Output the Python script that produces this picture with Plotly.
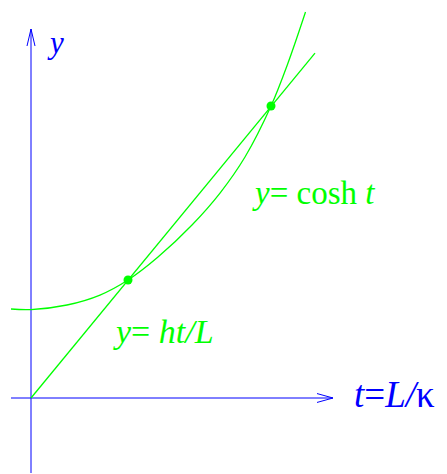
import plotly.graph_objects as go

# cosh-like curve (t, y)
curve_t = [-0.16, 0.00, 0.288, 0.552, 0.776, 1.016, 1.288, 1.512, 1.712, 1.920, 2.056, 2.196]
curve_y = [1.00, 0.994, 1.045, 1.157, 1.326, 1.584, 1.944, 2.303, 2.708, 3.281, 3.764, 4.337]

# straight line y = h t / L
line_t = [0.0, 2.272]
line_y = [0.0, 3.876]

# intersection points
pts_t = [0.776, 1.920]
pts_y = [1.326, 3.281]

# axes extents
xaxis_t = [-0.16, 2.416]
yaxis_y = [-0.843, 4.146]

# arrowheads (open chevrons)
xarrow_t = [2.288, 2.416, 2.288]
xarrow_y = [0.05, 0.0, -0.05]
yarrow_t = [-0.032, 0.0, 0.032]
yarrow_y = [3.955, 4.146, 3.955]

GREEN = "#00ff00"
BLUE = "#0000ff"
FONT = "Liberation Serif"

fig = go.Figure()
fig.add_trace(go.Scatter(x=xaxis_t, y=[0, 0], mode="lines", line=dict(color=BLUE, width=1)))
fig.add_trace(go.Scatter(x=[0, 0], y=yaxis_y, mode="lines", line=dict(color=BLUE, width=1)))
fig.add_trace(go.Scatter(x=xarrow_t, y=xarrow_y, mode="lines", line=dict(color=BLUE, width=1)))
fig.add_trace(go.Scatter(x=yarrow_t, y=yarrow_y, mode="lines", line=dict(color=BLUE, width=1)))
fig.add_trace(go.Scatter(x=curve_t, y=curve_y, mode="lines", line=dict(color=GREEN, width=1.3, shape="spline", smoothing=1.0)))
fig.add_trace(go.Scatter(x=line_t, y=line_y, mode="lines", line=dict(color=GREEN, width=1.3)))
fig.add_trace(go.Scatter(x=pts_t, y=pts_y, mode="markers", marker=dict(color=GREEN, size=9)))

labels = [
    dict(text="<i>y</i>", x=0.112, y=4.0, color=BLUE, size=31),
    dict(text="<i>y</i>= cosh <i>t</i>", x=1.75, y=2.30, color=GREEN, size=33),
    dict(text="<i>y</i>= <i>ht/L</i>", x=0.64, y=0.75, color=GREEN, size=34),
    dict(text="<i>t</i>=<i>L/</i>κ", x=2.57, y=0.04, color=BLUE, size=37),
]
for lb in labels:
    fig.add_annotation(x=lb["x"], y=lb["y"], xref="x", yref="y", text=lb["text"],
                       showarrow=False, xanchor="left", yanchor="middle",
                       font=dict(family=FONT, size=lb["size"], color=lb["color"]))

fig.update_layout(
    width=447, height=474,
    margin=dict(l=0, r=0, t=0, b=0),
    paper_bgcolor="white", plot_bgcolor="white",
    showlegend=False, hovermode=False,
    xaxis=dict(range=[-0.248, 3.328], visible=False, fixedrange=True),
    yaxis=dict(range=[-0.854, 4.472], visible=False, fixedrange=True),
)
fig.write_html("out.html", config={"displayModeBar": False},
               post_script="document.body.style.margin='0px';document.body.style.padding='0px';")
